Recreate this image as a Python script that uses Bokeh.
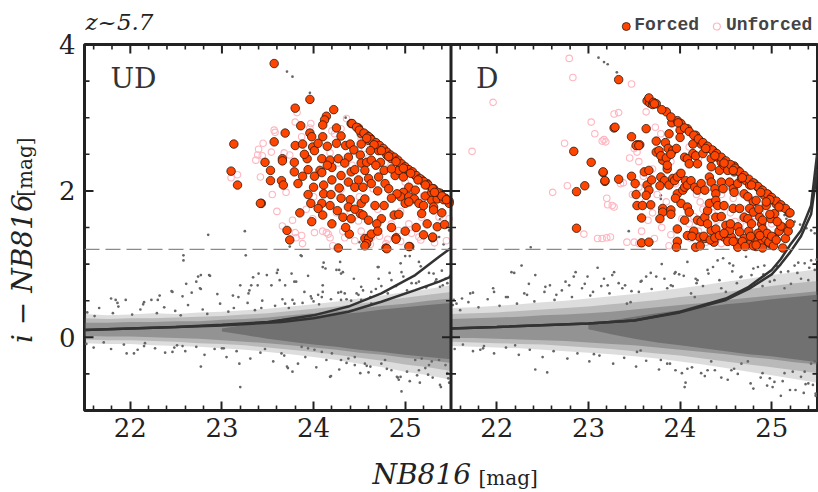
import math
from bokeh.plotting import figure
from bokeh.layouts import column, row
from bokeh.models import FixedTicker, Span, Range1d
from bokeh.core.properties import value
from bokeh.embed import file_html
from bokeh.resources import INLINE

# ---------------- data ----------------
D_SHIFT = 4.0          # the D panel is drawn 4 mag to the right of the UD panel
DASH_Y = 1.2           # colour cut

X_MAJOR = [22, 23, 24, 25]
Y_MAJOR = [0, 2, 4]
Y_MINOR = [-1, -0.5, 0.5, 1, 1.5, 2.5, 3, 3.5]

# gray stellar-locus envelopes
BAND_X = [21.5, 21.75, 22.0, 22.25, 22.5, 22.75, 23.0, 23.25, 23.5, 23.75, 24.0, 24.25, 24.5,
          24.75, 25.0, 25.25, 25.5]
UD_L1_HI = [0.32, 0.30, 0.31, 0.33, 0.32, 0.34, 0.35, 0.37, 0.39, 0.42, 0.45, 0.49, 0.53, 0.57, 0.62, 0.66, 0.71]
UD_L1_LO = [-0.08, -0.09, -0.09, -0.11, -0.12, -0.13, -0.15, -0.17, -0.20, -0.23, -0.27, -0.31, -0.36, -0.41, -0.47, -0.52, -0.58]
UD_L2_HI = [0.26, 0.25, 0.26, 0.26, 0.27, 0.28, 0.29, 0.31, 0.33, 0.36, 0.39, 0.42, 0.46, 0.50, 0.54, 0.58, 0.62]
UD_L2_LO = [-0.03, -0.04, -0.04, -0.05, -0.06, -0.08, -0.09, -0.11, -0.14, -0.17, -0.20, -0.24, -0.28, -0.32, -0.37, -0.41, -0.46]
UD_L3_HI = [0.20, 0.20, 0.21, 0.21, 0.22, 0.22, 0.24, 0.25, 0.27, 0.30, 0.33, 0.36, 0.39, 0.43, 0.46, 0.50, 0.53]
UD_L3_LO = [0.02, 0.01, 0.01, 0.00, -0.01, -0.02, -0.04, -0.06, -0.08, -0.11, -0.14, -0.17, -0.21, -0.24, -0.28, -0.31, -0.35]
CORE_X = [23.0, 23.25, 23.5, 23.75, 24.0, 24.25, 24.5, 24.75, 25.0, 25.25, 25.5]
UD_CORE_HI = [0.12, 0.17, 0.21, 0.25, 0.28, 0.31, 0.34, 0.38, 0.41, 0.44, 0.47]
UD_CORE_LO = [0.08, 0.03, -0.02, -0.06, -0.10, -0.13, -0.17, -0.20, -0.24, -0.27, -0.30]
D_L1_HI = [0.40, 0.41, 0.43, 0.45, 0.48, 0.50, 0.53, 0.56, 0.59, 0.63, 0.67, 0.71, 0.76, 0.80, 0.85, 0.89, 0.93]
D_L1_LO = [-0.12, -0.13, -0.14, -0.15, -0.17, -0.19, -0.21, -0.23, -0.26, -0.29, -0.33, -0.37, -0.42, -0.47, -0.52, -0.57, -0.62]
D_L2_HI = [0.32, 0.33, 0.34, 0.36, 0.38, 0.40, 0.42, 0.45, 0.48, 0.51, 0.55, 0.58, 0.62, 0.66, 0.70, 0.74, 0.77]
D_L2_LO = [-0.06, -0.07, -0.08, -0.09, -0.10, -0.12, -0.14, -0.16, -0.19, -0.22, -0.25, -0.29, -0.33, -0.37, -0.41, -0.45, -0.49]
D_L3_HI = [0.25, 0.26, 0.27, 0.28, 0.30, 0.31, 0.33, 0.35, 0.38, 0.41, 0.44, 0.47, 0.51, 0.54, 0.57, 0.60, 0.63]
D_L3_LO = [-0.01, -0.01, -0.02, -0.03, -0.04, -0.05, -0.07, -0.09, -0.11, -0.14, -0.17, -0.20, -0.23, -0.27, -0.30, -0.34, -0.37]
D_CORE_HI = [0.17, 0.23, 0.28, 0.33, 0.37, 0.41, 0.45, 0.48, 0.52, 0.55, 0.58]
D_CORE_LO = [0.11, 0.04, -0.02, -0.07, -0.11, -0.15, -0.19, -0.23, -0.26, -0.30, -0.34]

# limit curves
UD_CURVE_X = [21.5, 22.0, 22.5, 23.0, 23.5, 23.65, 24.0, 24.38, 24.74, 25.11, 25.37, 25.5]
UD_CURVE1_Y = [0.10, 0.12, 0.14, 0.17, 0.21, 0.235, 0.30, 0.42, 0.60, 0.85, 1.10, 1.22]
UD_CURVE2_Y = [0.10, 0.12, 0.14, 0.16, 0.20, 0.21, 0.26, 0.35, 0.485, 0.645, 0.76, 0.83]
D_CURVE_X = [21.5, 22.0, 23.0, 23.5, 24.0, 24.5, 24.75, 25.0, 25.1, 25.2, 25.32, 25.43, 25.5]
D_CURVE1_Y = [0.12, 0.14, 0.19, 0.23, 0.35, 0.53, 0.69, 0.92, 1.07, 1.26, 1.46, 1.80, 2.55]
D_CURVE2_Y = [0.12, 0.14, 0.19, 0.23, 0.34, 0.51, 0.66, 0.86, 1.00, 1.16, 1.38, 1.68, 2.30]

UD_FORCED = [
    (23.57, 3.74), (23.13, 2.64), (23.10, 2.27), (23.17, 2.08), (23.43, 1.83),
    (23.96, 3.25), (23.80, 3.13), (24.22, 3.11), (24.14, 3.02), (24.12, 2.97), (24.10, 2.90),
    (24.41, 2.92), (23.86, 2.89), (24.25, 2.86), (23.69, 2.79), (23.96, 2.79), (24.10, 2.74),
    (24.49, 2.86), (24.52, 2.78), (24.58, 2.76), (24.62, 2.72), (24.60, 2.69), (24.69, 2.64),
    (23.57, 2.67), (23.80, 2.62), (23.98, 2.74), (23.88, 2.64), (23.99, 2.60), (24.15, 2.61),
    (24.25, 2.65), (24.35, 2.62), (24.40, 2.64), (24.52, 2.64), (24.44, 2.56), (24.51, 2.49),
    (24.71, 2.55), (24.77, 2.56), (24.80, 2.49), (24.73, 2.39), (24.85, 2.44), (24.91, 2.41),
    (24.95, 2.33), (25.00, 2.30), (25.04, 2.26), (25.11, 2.21), (25.18, 2.15), (25.24, 2.10),
    (25.31, 2.03), (25.38, 1.97), (25.44, 1.90), (25.48, 1.86),
    (23.47, 2.39), (23.66, 2.44), (23.66, 2.41), (23.79, 2.39), (23.93, 2.44), (24.01, 2.55),
    (24.09, 2.44), (24.18, 2.42), (24.27, 2.44), (24.38, 2.46), (24.34, 2.38), (24.20, 2.32),
    (24.07, 2.28), (24.09, 2.25), (23.94, 2.29), (24.01, 2.20), (23.79, 2.26), (23.53, 2.28),
    (23.53, 2.14), (23.65, 2.14), (23.67, 2.08), (23.83, 2.10), (23.42, 1.83), (23.94, 1.95),
    (24.11, 2.08), (24.11, 1.96), (24.19, 1.95), (24.28, 2.04), (24.30, 2.21), (24.41, 2.26),
    (24.45, 2.29), (24.52, 2.38), (24.58, 2.39), (24.63, 2.42), (24.56, 2.28), (24.60, 2.17),
    (24.49, 2.15), (24.38, 2.12), (24.45, 2.05), (24.54, 2.05), (24.63, 2.10), (24.71, 2.19),
    (24.77, 2.28), (24.78, 2.10), (24.82, 2.03), (24.89, 2.21), (24.93, 2.28), (24.98, 2.19),
    (25.04, 2.05), (24.98, 1.98), (24.95, 1.92), (25.04, 1.92), (25.11, 2.01), (25.10, 1.89),
    (25.22, 1.93), (25.29, 1.98), (25.29, 1.87), (25.31, 1.78), (25.31, 1.74), (25.35, 1.89),
    (25.42, 1.88), (25.48, 1.83), (24.09, 1.83), (24.18, 1.80), (24.05, 1.76), (24.10, 1.67),
    (23.97, 1.83), (23.98, 1.58), (24.26, 1.73), (24.32, 1.64), (24.40, 1.88), (24.38, 1.78),
    (24.41, 1.62), (24.52, 1.83), (24.56, 1.89), (24.51, 1.69), (24.54, 1.67), (24.67, 1.80),
    (24.77, 1.80), (24.74, 1.62), (24.69, 1.55), (24.88, 1.67), (24.93, 1.68), (24.91, 1.96),
    (25.00, 1.83), (25.04, 1.85), (25.15, 1.83), (25.18, 1.69), (25.24, 1.55), (25.35, 1.51),
    (25.43, 1.54), (25.12, 1.50), (25.30, 1.36), (24.90, 1.36), (24.79, 1.22), (25.05, 1.24),
    (24.56, 1.35), (24.60, 1.35), (24.58, 1.28), (24.39, 1.41), (24.27, 1.22), (23.71, 1.46),
    (23.74, 1.33), (24.56, 1.25), (24.63, 1.41), (24.80, 1.21), (24.90, 1.34), (25.04, 1.24),
    (25.30, 1.37),
    (24.42, 2.92), (24.47, 2.87), (24.50, 2.83), (24.55, 2.79), (24.60, 2.74), (24.63, 2.70),
    (24.68, 2.66), (24.72, 2.62), (24.76, 2.58), (24.80, 2.53), (24.84, 2.49), (24.88, 2.46),
    (24.92, 2.42), (24.96, 2.37), (25.00, 2.33), (25.04, 2.29), (25.08, 2.26), (25.12, 2.21),
    (25.16, 2.17), (25.20, 2.13), (25.25, 2.08), (25.30, 2.03), (25.35, 1.98), (25.40, 1.93),
    (25.45, 1.88), (24.58, 2.72), (24.66, 2.63), (24.74, 2.55), (24.82, 2.47), (24.90, 2.40),
    (24.98, 2.31), (25.06, 2.24), (25.14, 2.15), (25.22, 2.08), (25.32, 1.98),
    (24.20, 2.15), (24.15, 2.35), (23.90, 2.50), (24.05, 2.65), (24.30, 2.75), (24.62, 2.55),
    (24.68, 2.35), (24.85, 2.30), (24.70, 2.00), (24.85, 1.90), (25.20, 1.80), (25.40, 1.70),
    (24.30, 1.90), (24.45, 1.75), (24.60, 1.60), (24.85, 1.50), (25.00, 1.45), (25.20, 1.40),
    (24.70, 1.45), (24.35, 1.50), (24.20, 1.55), (23.85, 1.70), (24.00, 2.05), (23.88, 2.20),
]

UD_UNFORCED = [
    (23.79, 3.14), (23.82, 3.07), (23.57, 2.83), (23.39, 2.49), (23.37, 2.42), (23.42, 2.19),
    (23.54, 2.53), (23.74, 2.49), (23.68, 2.52), (23.87, 2.74), (23.97, 2.92), (24.23, 2.78),
    (24.30, 2.85), (24.36, 2.99), (24.52, 2.72), (24.56, 2.58), (24.18, 2.52), (24.27, 2.38),
    (24.42, 2.35), (24.60, 2.45), (24.78, 2.38), (23.10, 2.18), (23.17, 2.22), (23.45, 2.65),
    (23.40, 2.57), (23.44, 2.48), (23.80, 2.94), (23.58, 2.80), (23.96, 2.86), (24.20, 2.82),
    (23.77, 1.60), (23.87, 1.39), (23.88, 1.28), (23.99, 1.62), (24.01, 1.43), (24.16, 1.41),
    (24.18, 1.36), (24.21, 1.25), (24.32, 1.45), (24.34, 1.36), (24.49, 1.59), (24.52, 1.45),
    (24.63, 1.36), (24.72, 1.38), (24.81, 1.34), (24.85, 1.55), (24.93, 1.46), (25.04, 1.55),
    (25.07, 1.42), (25.15, 1.37), (25.18, 1.64), (25.37, 1.64), (25.48, 1.62), (23.80, 1.43),
    (23.81, 1.36), (24.10, 1.45), (24.14, 1.43), (24.45, 1.32), (24.62, 1.27), (24.79, 1.28),
    (24.95, 1.31), (25.17, 1.33), (25.32, 1.29), (25.45, 1.32), (23.66, 1.52), (23.60, 1.72),
    (23.92, 1.75), (24.25, 1.70), (24.40, 1.72), (24.70, 1.75), (24.95, 1.72), (23.55, 1.95),
    (23.70, 1.98), (24.00, 1.92), (24.50, 1.92), (24.85, 1.95), (25.20, 1.93), (24.65, 2.03),
    (25.00, 2.12), (24.30, 2.02),
]

D_FORCED = [
    (22.84, 2.54), (23.03, 2.39), (23.16, 2.25), (23.18, 2.13), (22.87, 1.99), (22.96, 2.07),
    (23.33, 2.16), (22.87, 1.49), (23.28, 2.86), (23.33, 3.52), (23.64, 3.23), (23.67, 3.20),
    (23.70, 3.18), (23.47, 2.74), (23.53, 2.63), (23.56, 2.63), (23.63, 2.85),
    (23.66, 3.27), (23.71, 3.21), (23.74, 3.19), (23.85, 3.08), (23.91, 2.93), (24.01, 2.92),
    (23.97, 2.96), (24.08, 2.85), (24.00, 2.83), (23.88, 2.78), (23.29, 2.87), (23.52, 2.62),
    (23.55, 2.62), (23.74, 2.68), (23.84, 2.66), (24.00, 2.73), (24.17, 2.76), (24.19, 2.71),
    (24.21, 2.69), (24.23, 2.64), (24.14, 2.64), (23.74, 2.53), (23.77, 2.55), (23.87, 2.58),
    (23.92, 2.55), (23.96, 2.58), (23.81, 2.42), (23.79, 2.48), (23.85, 2.45), (23.90, 2.50),
    (24.05, 2.46), (24.08, 2.44), (24.14, 2.51), (24.17, 2.48), (24.10, 2.37), (24.19, 2.37),
    (24.25, 2.51), (24.30, 2.58), (24.36, 2.55), (24.34, 2.44), (24.41, 2.46), (24.45, 2.39),
    (24.34, 2.33), (24.43, 2.28), (24.48, 2.35), (24.52, 2.28), (24.59, 2.26), (24.63, 2.28),
    (24.59, 2.34), (23.16, 2.26), (23.18, 2.14), (23.47, 2.20), (23.51, 2.10), (23.61, 2.26),
    (23.66, 2.28), (23.64, 2.08), (23.66, 2.01), (23.63, 1.94), (23.69, 2.15), (23.52, 1.95),
    (23.53, 1.80), (23.59, 1.80), (23.68, 1.81), (23.79, 2.19), (23.83, 2.14), (23.78, 2.07),
    (23.88, 2.08), (23.86, 2.30), (23.86, 2.35), (23.92, 2.17), (23.94, 2.14), (23.97, 2.19),
    (24.01, 2.24), (23.97, 1.96), (24.03, 2.01), (24.05, 2.05), (24.06, 2.14), (24.08, 2.08),
    (24.12, 2.14), (24.16, 2.05), (24.19, 2.01), (24.23, 2.10), (24.27, 2.01), (24.32, 2.19),
    (24.34, 2.12), (24.38, 2.03), (24.39, 1.96), (24.45, 2.12), (24.47, 2.03), (24.54, 2.12),
    (24.58, 2.03), (24.59, 1.98), (24.63, 2.10), (24.67, 2.17), (24.72, 2.14), (24.76, 2.08),
    (24.81, 2.10), (24.85, 2.05), (24.89, 2.01), (24.96, 1.95), (24.70, 1.96), (24.74, 1.92),
    (24.80, 1.85), (24.83, 1.87), (24.92, 1.94), (25.03, 1.86), (25.05, 1.82), (24.94, 1.80),
    (25.11, 1.78), (25.19, 1.70), (23.81, 1.76), (23.81, 1.71), (23.90, 1.74), (23.90, 1.68),
    (23.78, 1.62), (23.58, 1.63), (23.97, 1.48), (24.08, 1.39), (23.97, 1.31), (23.58, 1.29),
    (23.66, 1.30), (24.01, 1.83), (24.08, 1.78), (24.10, 1.71), (24.19, 1.60), (24.23, 1.58),
    (24.27, 1.64), (24.30, 1.73), (24.32, 1.83), (24.39, 1.87), (24.41, 1.80), (24.48, 1.80),
    (24.39, 1.64), (24.34, 1.46), (24.39, 1.48), (24.50, 1.53), (24.21, 1.37), (24.27, 1.35),
    (24.48, 1.37), (24.56, 1.37), (24.63, 1.51), (24.65, 1.44), (24.70, 1.64), (24.74, 1.62),
    (24.58, 1.76), (24.65, 1.76), (24.76, 1.76), (24.80, 1.71), (24.87, 1.64), (24.89, 1.55),
    (24.90, 1.48), (24.85, 1.42), (24.92, 1.37), (24.80, 1.30), (24.83, 1.24), (24.96, 1.30),
    (24.99, 1.27), (25.03, 1.37), (25.12, 1.50), (24.99, 1.62), (25.03, 1.69), (24.74, 1.28),
    (24.54, 1.46), (24.61, 1.30), (24.63, 1.23), (24.37, 1.30), (24.17, 1.23), (23.96, 1.23),
    (23.72, 3.19), (23.80, 3.11), (23.90, 3.01), (23.98, 2.93), (24.05, 2.86), (24.10, 2.81),
    (24.15, 2.76), (24.20, 2.71), (24.25, 2.66), (24.30, 2.61), (24.35, 2.56), (24.40, 2.51),
    (24.45, 2.46), (24.50, 2.41), (24.55, 2.36), (24.60, 2.31), (24.65, 2.26), (24.70, 2.21),
    (24.75, 2.16), (24.80, 2.11), (24.85, 2.06), (24.90, 2.01), (24.95, 1.96), (25.00, 1.91),
    (25.05, 1.86), (25.10, 1.81), (25.15, 1.76), (25.20, 1.70), (24.28, 2.58), (24.38, 2.48),
    (24.48, 2.38), (24.58, 2.28), (24.68, 2.18), (24.78, 2.08), (24.88, 1.98), (24.98, 1.88),
    (25.08, 1.78),
    (24.80, 1.25), (24.85, 1.32), (24.88, 1.28), (24.90, 1.22), (24.93, 1.35), (24.95, 1.42),
    (24.97, 1.30), (25.00, 1.38), (25.02, 1.25), (25.05, 1.33), (25.08, 1.45), (25.10, 1.52),
    (24.75, 1.45), (24.78, 1.55), (24.90, 1.60), (24.98, 1.68), (25.06, 1.58), (24.86, 1.75),
    (24.94, 1.85), (25.12, 1.22), (25.15, 1.35), (25.18, 1.45), (25.20, 1.55), (24.70, 1.35),
    (24.55, 1.55), (24.45, 1.65), (24.30, 1.55), (24.15, 1.45), (24.05, 1.60), (23.95, 1.90),
    (24.13, 1.38), (24.22, 1.25), (24.26, 1.38), (24.33, 1.33), (24.38, 1.36), (24.43, 1.39),
    (24.48, 1.42), (24.52, 1.31), (24.58, 1.31), (24.68, 1.31), (24.71, 1.24), (24.77, 1.38),
    (24.83, 1.26), (24.87, 1.39),
]

D_UNFORCED = [
    (22.79, 3.81), (22.83, 3.55), (21.96, 3.21), (21.73, 2.54), (23.47, 3.46), (23.28, 3.05),
    (23.33, 3.07), (23.03, 2.94), (23.07, 2.78), (23.17, 2.70), (22.74, 2.65), (22.61, 1.98),
    (22.77, 2.07), (23.20, 1.90), (23.21, 1.81), (23.35, 2.10), (23.38, 2.11), (22.95, 1.41),
    (23.10, 1.35), (23.15, 1.35), (23.20, 1.36), (23.15, 2.68), (23.19, 2.67), (23.63, 3.08),
    (23.73, 2.87), (23.79, 2.78), (23.50, 2.58), (23.53, 2.53), (23.26, 1.80), (23.28, 1.78),
    (23.24, 1.37), (23.42, 1.30), (23.50, 1.30), (23.55, 1.28), (23.45, 2.45), (23.55, 2.40),
    (23.60, 2.20), (23.70, 2.30), (23.55, 2.05), (23.48, 1.95), (23.62, 1.85), (23.75, 1.95),
    (23.70, 1.70), (23.85, 1.85), (23.65, 1.60), (23.80, 1.50), (23.90, 1.40), (23.58, 1.45),
    (23.72, 1.35), (23.88, 1.25), (23.95, 2.10), (24.00, 2.25), (23.90, 2.40), (24.10, 2.60),
    (24.20, 2.45), (24.10, 1.55), (24.15, 1.65), (24.20, 1.45), (24.25, 1.75), (24.30, 1.55),
    (24.35, 1.85), (24.38, 1.40), (24.42, 1.65), (24.45, 1.95), (24.50, 1.50), (24.55, 1.70),
    (24.58, 1.90), (24.60, 1.58), (24.65, 1.35), (24.70, 1.75), (24.72, 1.52), (24.78, 1.88),
    (24.82, 1.58), (24.88, 1.72), (24.92, 1.48), (25.00, 1.55), (25.05, 1.68), (25.10, 1.45),
    (24.28, 1.30), (24.45, 1.28), (24.62, 1.25), (24.82, 1.35), (24.98, 1.25), (25.12, 1.30),
    (24.18, 1.95), (24.32, 2.05), (24.52, 2.10), (24.62, 1.98), (24.40, 1.60), (24.55, 1.42),
    (24.68, 1.62), (24.48, 1.78), (24.35, 1.70), (24.22, 1.85), (24.08, 1.75), (24.02, 1.62),
    (24.12, 1.35), (23.98, 1.30),
]

UD_DOTS = [
    (22.58, 1.12), (22.58, 1.05), (22.77, 0.85), (22.86, 0.85), (22.77, 0.66), (22.46, 0.62),
    (22.30, 0.51), (22.15, 0.48), (21.84, 0.51), (21.79, 0.53), (21.86, 0.47), (21.95, 0.51),
    (22.23, 0.51), (22.32, 0.57), (22.45, 0.63), (22.57, 0.56), (22.61, 0.73), (22.72, 0.76),
    (22.74, 0.83), (22.87, 0.84), (22.67, 0.61), (22.76, 0.67), (22.95, 0.59), (23.20, 0.71),
    (23.29, 0.60), (23.32, 0.71), (23.34, 0.82), (23.40, 0.87), (23.49, 0.85), (23.60, 0.88),
    (23.54, 0.71), (23.63, 0.78), (23.26, 1.12), (23.30, 0.64), (23.12, 0.57), (23.18, 0.55),
    (23.39, 0.71), (23.43, 0.40), (23.61, 0.92), (23.76, 0.87), (23.79, 0.76), (23.90, 0.62),
    (23.86, 1.12), (23.87, 1.11), (24.11, 1.02), (24.10, 0.96), (24.13, 0.94), (24.29, 1.03),
    (24.25, 0.92), (24.32, 0.89), (24.30, 0.87), (23.94, 0.84), (23.81, 0.76), (24.10, 0.71),
    (24.30, 0.62), (24.34, 0.60), (24.47, 0.60), (24.52, 0.69), (24.54, 0.64), (24.63, 0.62),
    (24.71, 0.96), (24.85, 0.78), (24.83, 0.88), (24.95, 1.01), (25.00, 1.11), (25.05, 1.11),
    (25.15, 1.03), (25.17, 0.97), (24.96, 0.89), (24.98, 0.83), (25.07, 0.74), (25.15, 0.76),
    (25.26, 0.88), (25.31, 0.87), (25.40, 0.91), (25.33, 0.76), (25.38, 0.69), (25.44, 0.80),
    (25.46, 0.74), (24.71, 0.80), (24.74, 0.70), (24.52, 0.51), (24.63, 0.46), (24.10, 0.62),
    (24.05, 0.58), (24.09, 0.55), (23.98, 0.53), (24.00, 0.49), (24.30, 0.51), (24.36, 0.52),
    (23.69, 0.71), (23.77, 0.51), (23.79, 0.46), (23.69, 0.46), (24.70, 0.96), (24.44, 0.80),
    (24.28, 0.92),
    (23.71, 3.63), (23.77, 3.56), (23.96, 3.34), (24.35, 3.00), (25.38, 1.61), (25.44, 1.55),
    (25.48, 1.46), (25.37, 1.37), (25.42, 1.27), (23.74, 1.24), (22.85, 1.40), (23.25, 1.45),
    (24.50, 1.30),
    (21.96, -0.22), (22.77, -0.40), (23.19, -0.36), (23.20, -0.68), (23.71, -0.40), (23.77, -0.47),
    (24.18, -0.54), (24.91, -0.54), (24.96, -0.74), (22.04, -0.22), (22.46, -0.20), (22.48, -0.14),
    (22.15, -0.12), (22.57, -0.12), (23.00, -0.15), (23.02, -0.15), (23.65, -0.22), (23.47, -0.16),
    (23.72, -0.42), (24.19, -0.53), (24.30, -0.31), (24.38, -0.29), (24.45, -0.27), (24.62, -0.40),
    (24.74, -0.36), (24.78, -0.31), (24.92, -0.55), (24.95, -0.54), (25.13, -0.52), (25.15, -0.45),
    (25.22, -0.42), (25.26, -0.38), (25.38, -0.65), (25.46, -0.49), (25.44, -0.38), (24.01, -0.17),
    (24.09, -0.20), (24.20, -0.22), (23.87, -0.13), (23.94, -0.15), (24.45, -0.38), (24.56, -0.36),
    (25.11, -0.31), (25.18, -0.29), (25.29, -0.33), (25.37, -0.31), (25.05, -0.60), (25.30, -0.55),
    (25.48, -0.62), (24.85, -0.45), (24.60, -0.48),
    (21.53, 0.34), (21.61, 0.29), (21.66, 0.40), (21.81, 0.33), (21.87, 0.42), (22.02, 0.31),
    (22.11, 0.38), (22.14, 0.45), (22.29, 0.33), (22.37, 0.41), (22.49, 0.36), (22.55, 0.30),
    (22.63, 0.44), (22.79, 0.38), (22.84, 0.32), (22.98, 0.46), (23.07, 0.35), (23.13, 0.40),
    (23.28, 0.47), (23.36, 0.37), (23.44, 0.50), (23.58, 0.43), (23.66, 0.52), (23.73, 0.40),
    (23.88, 0.47), (23.97, 0.56), (24.06, 0.45), (24.19, 0.52), (24.27, 0.61), (24.41, 0.50),
    (24.49, 0.58), (24.62, 0.55), (24.68, 0.66), (24.81, 0.60), (24.90, 0.70), (25.02, 0.64),
    (25.12, 0.74), (25.23, 0.68), (25.34, 0.79), (25.41, 0.71), (25.49, 0.84),
    (21.52, -0.09), (21.60, -0.14), (21.71, -0.07), (21.79, -0.16), (21.93, -0.10), (22.08, -0.17),
    (22.16, -0.08), (22.27, -0.15), (22.38, -0.21), (22.51, -0.11), (22.60, -0.19), (22.72, -0.13),
    (22.81, -0.24), (22.92, -0.16), (23.05, -0.27), (23.16, -0.19), (23.31, -0.29), (23.42, -0.21),
    (23.56, -0.33), (23.68, -0.25), (23.83, -0.36), (23.91, -0.27), (24.03, -0.41), (24.14, -0.31),
    (24.28, -0.44), (24.36, -0.35), (24.51, -0.49), (24.58, -0.39), (24.72, -0.52), (24.80, -0.43),
    (24.93, -0.58), (25.02, -0.47), (25.16, -0.62), (25.25, -0.51), (25.39, -0.68), (25.47, -0.56),
]

D_DOTS = [
    (21.71, 0.60), (21.74, 0.61), (21.62, 0.53), (21.53, 0.51), (21.56, 0.46), (21.96, 0.67),
    (21.97, 0.62), (22.16, 0.89), (22.19, 0.88), (22.27, 0.98), (22.42, 0.85), (22.35, 0.73),
    (22.53, 0.69), (22.58, 0.71), (22.75, 0.76), (22.79, 0.71), (22.86, 0.89), (22.84, 0.83),
    (22.99, 0.83), (22.96, 0.73), (23.17, 0.80), (23.21, 0.71), (23.28, 0.89), (23.26, 0.85),
    (23.37, 0.67), (23.40, 0.71), (23.57, 0.76), (23.63, 0.83), (23.68, 0.88), (23.74, 0.83),
    (23.94, 0.87), (23.95, 0.89), (23.99, 0.86), (24.08, 1.03), (24.17, 0.80), (24.19, 0.78),
    (24.30, 0.92), (24.36, 0.96), (24.41, 1.05), (24.47, 1.08), (24.54, 1.01), (24.58, 0.98),
    (24.67, 0.83), (24.78, 0.85), (24.85, 0.96), (24.92, 0.98), (24.98, 0.76), (25.03, 0.78),
    (25.10, 0.89), (25.25, 0.98), (25.36, 1.01), (25.43, 1.05), (25.14, 0.67), (25.21, 0.73),
    (25.32, 0.80), (25.40, 0.78), (25.47, 0.92), (23.86, 0.67), (23.90, 0.71), (23.42, 0.46),
    (23.46, 0.48), (24.12, 0.60), (24.16, 0.55), (24.45, 0.67), (24.50, 0.62), (22.10, 0.55),
    (22.30, 0.60), (22.65, 0.58), (23.05, 0.62), (23.55, 0.62), (24.25, 0.70), (24.62, 0.74),
    (24.90, 0.70), (25.28, 0.88), (24.72, 1.10), (23.80, 1.00), (23.10, 0.95),
    (23.11, 3.82), (23.17, 3.76), (23.21, 3.73), (23.31, 3.62), (25.14, 1.67), (25.25, 1.58),
    (25.31, 1.54), (25.38, 1.49), (25.43, 1.46), (25.47, 1.42), (23.44, 1.45), (22.37, 1.23),
    (23.79, 1.89), (23.79, 1.94), (25.16, 1.62), (25.21, 1.58), (24.60, 1.25),
    (22.42, -0.44), (22.55, -0.48), (21.82, -0.17), (21.85, -0.15), (22.20, -0.11), (23.06, -0.23),
    (23.53, -0.20), (23.57, -0.18), (23.79, -0.31), (23.86, -0.36), (24.06, -0.62), (24.08, -0.43),
    (24.05, -0.68), (24.23, -0.49), (24.30, -0.45), (24.56, -0.45), (24.59, -0.43), (24.90, -0.49),
    (24.98, -0.56), (25.03, -0.61), (25.14, -0.49), (25.23, -0.47), (25.32, -0.54), (25.36, -0.47),
    (25.40, -0.63), (25.45, -0.65), (25.43, -0.36), (25.47, -0.33), (24.67, -0.36), (24.74, -0.33),
    (24.34, -0.33), (24.80, -0.70), (25.20, -0.72), (25.10, -0.80), (24.95, -0.66), (25.35, -0.76),
    (25.48, -0.80), (24.45, -0.55), (23.95, -0.45),
    (21.52, 0.44), (21.60, 0.37), (21.69, 0.48), (21.80, 0.41), (21.90, 0.52), (22.03, 0.43),
    (22.12, 0.55), (22.22, 0.46), (22.33, 0.58), (22.41, 0.49), (22.52, 0.62), (22.63, 0.51),
    (22.71, 0.64), (22.82, 0.55), (22.93, 0.67), (23.02, 0.57), (23.14, 0.70), (23.23, 0.60),
    (23.33, 0.74), (23.47, 0.63), (23.58, 0.77), (23.69, 0.66), (23.83, 0.80), (23.92, 0.70),
    (24.04, 0.84), (24.18, 0.74), (24.31, 0.87), (24.43, 0.78), (24.57, 0.90), (24.66, 0.82),
    (24.80, 0.94), (24.91, 0.86), (25.06, 0.97), (25.18, 0.90), (25.29, 1.02), (25.41, 0.95),
    (25.49, 1.06),
    (21.54, -0.16), (21.63, -0.10), (21.74, -0.19), (21.86, -0.12), (21.97, -0.22), (22.10, -0.14),
    (22.24, -0.24), (22.36, -0.17), (22.50, -0.27), (22.62, -0.19), (22.77, -0.29), (22.88, -0.22),
    (23.01, -0.33), (23.12, -0.25), (23.27, -0.36), (23.39, -0.28), (23.52, -0.40), (23.63, -0.32),
    (23.77, -0.44), (23.89, -0.36), (24.02, -0.49), (24.13, -0.41), (24.27, -0.53), (24.38, -0.45),
    (24.52, -0.58), (24.63, -0.50), (24.77, -0.63), (24.88, -0.55), (25.01, -0.68), (25.12, -0.60),
    (25.26, -0.72), (25.37, -0.64), (25.48, -0.77),
]

# ---------------- helpers ----------------
def xs(pts, shift=0.0):
    return [p[0] + shift for p in pts]

def ys(pts):
    return [p[1] for p in pts]

def shifted(vals, shift):
    return [v + shift for v in vals]

INK = "#222222"
GRAY = "#666666"
ORANGE = "#ff4500"
EDGE = "#2a1a12"
PINK = "#ffb6c1"
SERIF = "DejaVu Serif"
MONO = "Liberation Mono"
BASE = 0.35            # text glyph: distance (in em) between anchor and drawn baseline

W_PAGE = 818
H_HEAD, H_MAIN, H_FOOT = 42, 412, 38
W_YLAB, W_TICK = 44, 38
X_MAIN = W_YLAB + W_TICK          # page x where the main canvas starts (82)
FRAME_W, FRAME_H = 733, 366
FRAME_TOP = 44
X0, X1 = 21.5, 25.5 + D_SHIFT
Y0, Y1 = -1.0, 4.0


def blank(width, height, x0, x1, y0, y1):
    f = figure(width=width, height=height, x_range=Range1d(x0, x1), y_range=Range1d(y0, y1),
               x_axis_type=None, y_axis_type=None, title=None, output_backend="svg",
               toolbar_location=None, min_border=0)
    f.outline_line_color = None
    f.background_fill_color = "white"
    f.border_fill_color = "white"
    return f


def style_ticks(ax, tin_major, tin_minor):
    ax.axis_line_color = None
    ax.major_tick_in = tin_major
    ax.major_tick_out = 0
    ax.minor_tick_in = tin_minor
    ax.minor_tick_out = 0
    ax.major_tick_line_color = INK
    ax.minor_tick_line_color = INK
    ax.major_tick_line_width = 2
    ax.minor_tick_line_width = 1.6
    ax.major_label_text_font = SERIF
    ax.major_label_text_font_size = "26px"
    ax.major_label_text_color = INK


# ---------------- main two-panel figure ----------------
p = figure(width=W_PAGE - X_MAIN, height=H_MAIN, x_range=Range1d(X0, X1), y_range=Range1d(Y0, Y1),
           title=None, output_backend="svg", toolbar_location=None, y_axis_location=None,
           min_border_left=84 - X_MAIN, min_border_right=1, min_border_top=FRAME_TOP - H_HEAD,
           min_border_bottom=H_MAIN - (FRAME_TOP - H_HEAD) - FRAME_H)
p.grid.visible = False
p.outline_line_color = INK
p.outline_line_width = 3
p.background_fill_color = "white"
p.border_fill_color = "white"

x_major = X_MAJOR + [t + int(D_SHIFT) for t in X_MAJOR]
x_minor = []
for k in range(20):
    v = round(21.6 + 0.2 * k, 1)
    if abs(v - round(v)) > 1e-6:
        x_minor.append(v)
        x_minor.append(round(v + D_SHIFT, 1))
x_minor.sort()
overrides = {t: str(t) for t in X_MAJOR}
overrides.update({t + int(D_SHIFT): str(t) for t in X_MAJOR})

style_ticks(p.xaxis[0], 9, 5)
p.xaxis.major_label_standoff = 7
p.xaxis.ticker = FixedTicker(ticks=x_major, minor_ticks=x_minor)
p.xaxis.major_label_overrides = overrides

# gray stellar locus
for shift, layers, core in (
        (0.0, [(UD_L1_LO, UD_L1_HI, 0.22), (UD_L2_LO, UD_L2_HI, 0.30), (UD_L3_LO, UD_L3_HI, 0.45)],
         (UD_CORE_LO, UD_CORE_HI)),
        (D_SHIFT, [(D_L1_LO, D_L1_HI, 0.22), (D_L2_LO, D_L2_HI, 0.30), (D_L3_LO, D_L3_HI, 0.45)],
         (D_CORE_LO, D_CORE_HI))):
    bx = shifted(BAND_X, shift)
    for lo, hi, a in layers:
        p.varea(x=bx, y1=lo, y2=hi, fill_color=GRAY, fill_alpha=a)
    p.varea(x=shifted(CORE_X, shift), y1=core[0], y2=core[1], fill_color=GRAY, fill_alpha=0.75)

p.scatter(xs(UD_DOTS), ys(UD_DOTS), size=2.7, color=GRAY, line_color=None)
p.scatter(xs(D_DOTS, D_SHIFT), ys(D_DOTS), size=2.7, color=GRAY, line_color=None)

# colour cut
p.add_layout(Span(location=DASH_Y, dimension="width", line_color="#8a8a8a",
                  line_width=1.3, line_dash="15 6"))

# limit curves
for cx, cy, sh in ((UD_CURVE_X, UD_CURVE1_Y, 0.0), (UD_CURVE_X, UD_CURVE2_Y, 0.0),
                   (D_CURVE_X, D_CURVE1_Y, D_SHIFT), (D_CURVE_X, D_CURVE2_Y, D_SHIFT)):
    p.line(shifted(cx, sh), cy, line_color="#333333", line_width=2.5)

# candidates
p.scatter(xs(UD_UNFORCED), ys(UD_UNFORCED), size=6.5, fill_color=None,
          line_color=PINK, line_width=1.1)
p.scatter(xs(D_UNFORCED, D_SHIFT), ys(D_UNFORCED), size=6.5, fill_color=None,
          line_color=PINK, line_width=1.1)
p.scatter(xs(UD_FORCED), ys(UD_FORCED), size=8.5, fill_color=ORANGE,
          line_color=EDGE, line_width=0.8)
p.scatter(xs(D_FORCED, D_SHIFT), ys(D_FORCED), size=8.5, fill_color=ORANGE,
          line_color=EDGE, line_width=0.8)

# panel divider, plus inward y ticks on the left edge, divider and right edge; x ticks on top
p.add_layout(Span(location=25.5, dimension="height", line_color=INK, line_width=3))
ppx = FRAME_W / (X1 - X0)
ppy = FRAME_H / (Y1 - Y0)
ty, tlen, tw = [], [], []
for t in Y_MAJOR:
    ty.append(t); tlen.append(9 / ppx); tw.append(2)
for t in Y_MINOR:
    ty.append(t); tlen.append(5 / ppx); tw.append(1.6)
n = len(ty)
for x_edge, sign in ((X0, 1), (25.5, -1), (25.5, 1), (X1, -1)):
    p.segment(x0=[x_edge] * n, y0=ty, x1=[x_edge + sign * d for d in tlen], y1=ty,
              line_color=INK, line_width=tw)
tx = x_major + x_minor
txl = [9 / ppy] * len(x_major) + [5 / ppy] * len(x_minor)
txw = [2] * len(x_major) + [1.6] * len(x_minor)
p.segment(x0=tx, y0=[Y1] * len(tx), x1=tx, y1=[Y1 - d for d in txl], line_color=INK, line_width=txw)

# panel names (baseline 44 px below the frame top)
p.text(x=[X0 + 26 / ppx], y=[Y1 - (44 - BASE * 28) / ppy], text=["UD"], text_font=value(SERIF),
       text_font_size="28px", text_color="#333333", text_baseline="alphabetic", text_align="left")
p.text(x=[25.5 + 25 / ppx], y=[Y1 - (44 - BASE * 28) / ppy], text=["D"], text_font=value(SERIF),
       text_font_size="28px", text_color="#333333", text_baseline="alphabetic", text_align="left")

# ---------------- y tick labels: a real axis on the same y scale ----------------
tick = figure(width=W_TICK, height=H_HEAD + H_MAIN, x_range=Range1d(0, 1), y_range=Range1d(Y0, Y1),
              x_axis_type=None, title=None, output_backend="svg", toolbar_location=None,
              min_border_left=W_TICK - 2, min_border_right=0, min_border_top=FRAME_TOP,
              min_border_bottom=H_HEAD + H_MAIN - FRAME_TOP - FRAME_H)
tick.grid.visible = False
tick.outline_line_color = None
tick.background_fill_color = "white"
tick.border_fill_color = "white"
style_ticks(tick.yaxis[0], 0, 0)
tick.yaxis.ticker = FixedTicker(ticks=Y_MAJOR, minor_ticks=[])
tick.yaxis.major_label_standoff = 5

# ---------------- header: redshift tag and legend (page pixels) ----------------
head = blank(W_PAGE - X_MAIN, H_HEAD, X_MAIN, W_PAGE, H_HEAD, 0)
head.text(x=[83], y=[30 - BASE * 23], text=["z~5.7"], text_font=value(SERIF),
          text_font_style="italic", text_font_size="23px", text_color=INK,
          text_baseline="alphabetic", text_align="left")
head.scatter([626], [26], size=8, fill_color=ORANGE, line_color=EDGE, line_width=0.8)
head.scatter([717], [26], size=7, fill_color=None, line_color=PINK, line_width=1.2)
head.text(x=[634, 726], y=[30.5 - BASE * 18] * 2, text=["Forced", "Unforced"],
          text_font=value(MONO), text_font_style="bold", text_font_size="18px",
          text_color="#444444", text_baseline="alphabetic", text_align="left")

# ---------------- y label (page pixels), centred on its reference position ----------------
ylab = blank(W_YLAB, H_HEAD + H_MAIN, 0, W_YLAB, H_HEAD + H_MAIN, 0)
ylab.text(x=[21.5], y=[278], text=["i − NB816"], text_font=value(SERIF),
          text_font_style="italic", text_font_size="28px", text_color=INK,
          text_baseline="middle", text_align="center", angle=math.pi / 2)
ylab.text(x=[24.5], y=[152], text=["[mag]"], text_font=value(SERIF),
          text_font_size="20px", text_color=INK, text_baseline="middle", text_align="center",
          angle=math.pi / 2)

# ---------------- x label (page pixels) ----------------
foot = blank(W_PAGE, H_FOOT, 0, W_PAGE, H_HEAD + H_MAIN + H_FOOT, H_HEAD + H_MAIN)
foot.text(x=[372], y=[484 - BASE * 28], text=["NB816"], text_font=value(SERIF),
          text_font_style="italic", text_font_size="28px", text_color=INK,
          text_baseline="alphabetic", text_align="left")
foot.text(x=[478], y=[484 - BASE * 20], text=["[mag]"], text_font=value(SERIF),
          text_font_size="20px", text_color=INK, text_baseline="alphabetic", text_align="left")

layout = column(row(ylab, tick, column(head, p, spacing=0), spacing=0), foot, spacing=0)
open("out.html", "w").write(file_html(layout, INLINE))
